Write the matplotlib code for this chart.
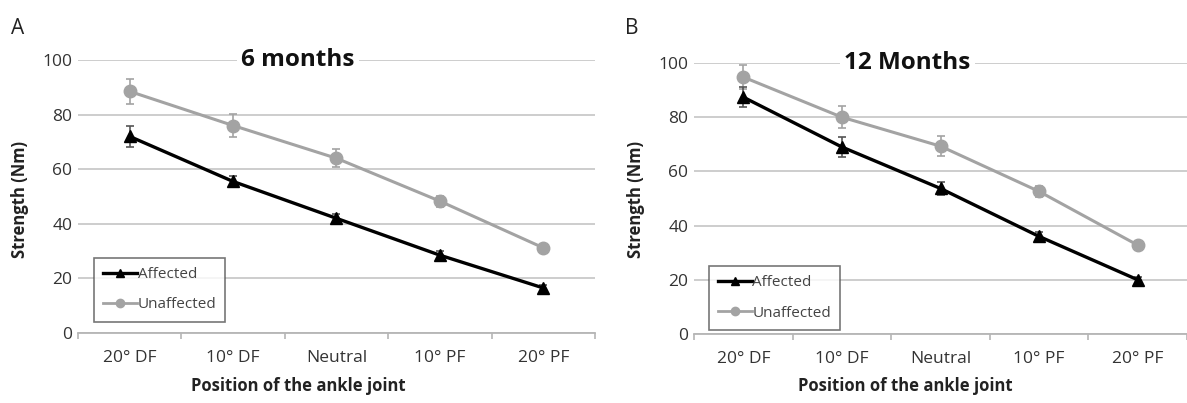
import matplotlib
matplotlib.use("Agg")
import matplotlib.pyplot as plt
from matplotlib.lines import Line2D
from matplotlib import transforms
import numpy as np

plt.rcParams['font.family'] = ['Open Sans', 'DejaVu Sans']

categories = ["20° DF", "10° DF", "Neutral", "10° PF", "20° PF"]

# Panel A: 6 months
a_affected = [72, 55.5, 42, 28.5, 16.5]
a_affected_err = [4, 2, 1.5, 1.5, 1]
a_unaffected = [88.5, 76, 64, 48.3, 31.2]
a_unaffected_err = [4.7, 4.2, 3.3, 2, 1.2]

# Panel B: 12 months
b_affected = [87.4, 69, 53.7, 36, 20]
b_affected_err = [3.8, 3.7, 2.5, 1.5, 1]
b_unaffected = [94.8, 80, 69.3, 52.6, 32.8]
b_unaffected_err = [4.4, 4, 3.7, 2, 1.2]

yticks = [0, 20, 40, 60, 80, 100]

W, H = 1187, 403
fig = plt.figure(figsize=(W / 100, H / 100), dpi=100)

GRAY = '#a3a3a3'
GRID = '#c9c9c9'


def px_axes(x0, x1, ytop, ybot):
    return fig.add_axes([x0 / W, (H - ybot) / H, (x1 - x0) / W, (ybot - ytop) / H])


def draw(ax, aff, aff_err, unaff, unaff_err, title, title_x, leg_anchor):
    x = np.arange(len(categories))
    ax.set_xlim(-0.5, len(categories) - 0.5)
    ax.set_ylim(0, 100)
    ax.set_yticks(yticks)
    ax.yaxis.grid(True, color=GRID, lw=1.3)
    ax.set_axisbelow(True)
    for s in ['top', 'right', 'left']:
        ax.spines[s].set_visible(False)
    ax.spines['bottom'].set_color('#b5b5b5')
    ax.spines['bottom'].set_linewidth(1.3)
    ax.set_xticks(x)
    ax.set_xticklabels(categories, fontsize=12.5, color='#333333')
    ax.set_xticks(np.arange(-0.5, len(categories)), minor=True)
    ax.tick_params(axis='x', which='major', length=0, pad=12)
    ax.tick_params(axis='x', which='minor', length=4, color='#b5b5b5', width=1.2)
    ax.tick_params(axis='y', length=0, pad=4, labelsize=12.5, labelcolor='#333333')

    ax.errorbar(x, unaff, yerr=unaff_err, color=GRAY, lw=2.2, marker='o',
                ms=9, ecolor=GRAY, elinewidth=1.2, capsize=3, capthick=1.2,
                zorder=3)
    ax.errorbar(x, aff, yerr=aff_err, color='black', lw=2.4, marker='^',
                ms=9, ecolor='#555555', elinewidth=1.2, capsize=3, capthick=1.2,
                zorder=4)

    handles = [Line2D([], [], color='black', lw=2.4, marker='^', ms=6),
               Line2D([], [], color=GRAY, lw=2.0, marker='o', ms=6)]
    leg = ax.legend(handles, ['Affected', 'Unaffected'],
                    loc='upper left', bbox_to_anchor=leg_anchor, fontsize=11,
                    frameon=True, fancybox=False, edgecolor='#555555',
                    handlelength=2.2, handletextpad=0.05, labelspacing=1.0,
                    borderpad=0.6, borderaxespad=0)
    leg.get_frame().set_linewidth(1.2)
    for t in leg.get_texts():
        t.set_color('#444444')

    ax.text(title_x, 100, title,
            transform=transforms.blended_transform_factory(ax.transAxes, ax.transData),
            fontsize=17.5, fontweight='bold', ha='center', va='center', color='#111111',
            bbox=dict(facecolor='white', edgecolor='none', pad=3), zorder=5)


axA = px_axes(78, 595, 60, 333)
draw(axA, a_affected, a_affected_err, a_unaffected, a_unaffected_err,
     '6 months', 0.425, (0.031, 0.275))
axB = px_axes(694, 1187, 63, 334)
draw(axB, b_affected, b_affected_err, b_unaffected, b_unaffected_err,
     '12 Months', 0.433, (0.030, 0.25))

# y labels, x labels, panel letters
for xc, xl_c in [(20, 298), (636, 905)]:
    fig.text(xc / W, (H - 200) / H, 'Strength (Nm)', rotation=90, ha='center',
             va='center', fontsize=12, fontweight='bold', color='#222222')
    fig.text(xl_c / W, (H - 386) / H, 'Position of the ankle joint', ha='center',
             va='center', fontsize=12, fontweight='bold', color='#222222')

fig.text(18 / W, (H - 28) / H, 'A', ha='center', va='center', fontsize=15, color='#222222')
fig.text(632 / W, (H - 28) / H, 'B', ha='center', va='center', fontsize=15, color='#222222')

fig.savefig('out.png', dpi=100)
